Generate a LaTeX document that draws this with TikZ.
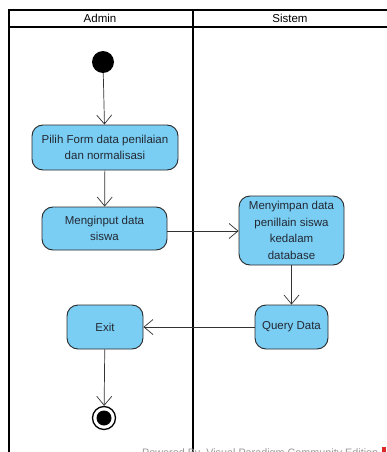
\documentclass[tikz,border=0pt]{standalone}
\usepackage{fontspec}
\setmainfont{Liberation Sans}
\usetikzlibrary{arrows.meta}
\definecolor{actfill}{RGB}{122,206,244}
\definecolor{actdraw}{RGB}{40,40,40}
\definecolor{txt}{RGB}{35,40,50}
\definecolor{wmred}{RGB}{220,40,40}
\tikzset{
  act/.style={draw=actdraw, line width=0.9pt, fill=actfill, rounded corners=11pt, inner sep=0pt, align=center, text=txt, font=\fontsize{11.5}{16.5}\selectfont},
  flow/.style={draw=black!80, line width=0.7pt, -{Straight Barb[length=9pt,width=15pt,line width=0.7pt]}},
  lane/.style={line width=2pt, black},
  hdr/.style={font=\fontsize{11.5}{13}\selectfont}
}
\begin{document}
\begin{tikzpicture}[x=1pt,y=-1pt]
\useasboundingbox (0,0) rectangle (386,452);
\fill[white] (0,0) rectangle (386,452);
% swimlanes
\draw[lane] (9,462) -- (9,10) -- (392,10);
\draw[lane] (9,27) -- (392,27);
\draw[lane] (193,10) -- (193,462);
\node[hdr] (hAdmin) at (100,18.5) {Admin};
\node[hdr] (hSistem) at (290,18.5) {Sistem};
% nodes
\node[circle, fill=black, minimum size=22pt, inner sep=0pt] (start) at (103,62) {};
\node[act, minimum width=146pt, minimum height=45pt] (pilih) at (105,147.5) {Pilih Form data penilaian\\dan normalisasi};
\node[act, minimum width=125pt, minimum height=43pt] (input) at (104.5,228.5) {Menginput data\\siswa};
\node[act, minimum width=105pt, minimum height=69pt] (simpan) at (291.5,230.5) {Menyimpan data\\penillain siswa\\kedalam\\database};
\node[act, minimum width=73pt, minimum height=44pt] (query) at (291.5,327) {Query Data};
\node[act, minimum width=76pt, minimum height=44pt] (exit) at (105,327) {Exit};
\node[circle, draw=black, line width=1.3pt, fill=white, minimum size=23pt, inner sep=0pt] (end) at (104,418) {};
\node[circle, fill=black, minimum size=15pt, inner sep=0pt] (endin) at (end.center) {};
% flows
\draw[flow] (start) -- (pilih);
\draw[flow] (pilih) -- (input);
\draw[flow] (input.east |- 0,231) -- (simpan.west |- 0,231);
\draw[flow] (simpan) -- (query);
\draw[flow] (query) -- (exit);
\draw[flow] (exit) -- (end);
% watermark
\node[anchor=base west, inner sep=0pt, text=black!40] (wm) at (142,456) {\resizebox{236pt}{!}{\fontsize{10}{12}\selectfont Powered By\ \ Visual Paradigm Community Edition}};
\fill[wmred] (382,447) rectangle (386,453);
\end{tikzpicture}
\end{document}
